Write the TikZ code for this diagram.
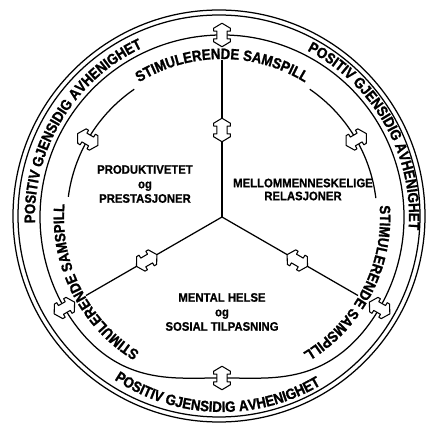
\documentclass[tikz,border=0pt]{standalone}
\usepackage{fontspec}
\setmainfont{Liberation Sans}
\newfontfamily\bandfam[FakeStretch=0.88,FakeBold=1.3]{Liberation Sans}
\newfontfamily\lblfam[FakeStretch=0.92,FakeBold=0.8]{Liberation Sans}
\usetikzlibrary{decorations.text}
\tikzset{
  ring/.style={line width=1.25pt},
  dbl/.pic={\draw[fill=white,line width=1.05pt,line join=round,scale=1.12]
     (10.5,0) -- (6,7.5) -- (3.5,7.5) -- (3.5,4.5) -- (-3.5,4.5) -- (-3.5,7.5) -- (-6,7.5)
     -- (-10.5,0) -- (-6,-7.5) -- (-3.5,-7.5) -- (-3.5,-4.5) -- (3.5,-4.5) -- (3.5,-7.5) -- (6,-7.5) -- cycle;},
  lbl/.style={align=center,font=\lblfam\bfseries\fontsize{12.3}{14.5}\selectfont},
  bandtxt/.style={decorate,decoration={text along path,text align=center,text={#1}}},
  bandfont/.style={execute at begin scope={\bandfam\bfseries\fontsize{15}{17}\selectfont}}
}
\begin{document}
\begin{tikzpicture}[x=1pt,y=1pt]
\useasboundingbox (0,0) rectangle (431,428);
\coordinate (o) at (219,212);
\coordinate (c) at (222,211);
% outer double circle
\draw[ring] (o) circle[radius=206];
\draw[ring] (o) circle[radius=201];
% middle line: circle over the top, dipping inwards at the bottom
\draw[ring] ([shift={(330:182)}]c) arc[start angle=330,end angle=570,radius=182];
\draw[ring] plot[domain=210:330,samples=91,variable=\t]
  ({222+(182-21*pow((cos(3*(\t-270))+1)/2,2))*cos(\t)},{211+(182-21*pow((cos(3*(\t-270))+1)/2,2))*sin(\t)});
% inner arcs between the texts
\draw[ring] ([shift={(124.5:155)}]c) arc[start angle=124.5,end angle=172.5,radius=155];
\draw[ring] ([shift={(7:155)}]c) arc[start angle=7,end angle=55.5,radius=155];
% spokes
\coordinate (s1) at ([shift={(90:157)}]c);
\coordinate (s2) at ([shift={(210:157)}]c);
\coordinate (s3) at ([shift={(330:157)}]c);
\draw[ring] (c) -- (s1);
\draw[ring] (c) -- (s2);
\draw[ring] (c) -- (s3);
% arrows
\foreach \a/\r in {90/182,210/182,330/182,30/155,150/155,270/161,90/87,210/87,330/87}
  \pic[rotate=\a] at ([shift={(\a:\r)}]c) {dbl};
% band texts
\begin{scope}[bandfont]
\path[bandtxt={STIMULERENDE SAMSPILL}] ([shift={(130:158)}]c) arc[start angle=130,end angle=50,radius=158];
\path[bandtxt={STIMULERENDE SAMSPILL}] ([shift={(12.5:158)}]c) arc[start angle=12.5,end angle=-67.5,radius=158];
\path[bandtxt={STIMULERENDE SAMSPILL}] ([shift={(247:158)}]c) arc[start angle=247,end angle=167,radius=158];
\path[bandtxt={POSITIV GJENSIDIG AVHENIGHET}] ([shift={(188.5:187)}]c) arc[start angle=188.5,end angle=108.5,radius=187];
\path[bandtxt={POSITIV GJENSIDIG AVHENIGHET}] ([shift={(69.5:187)}]c) arc[start angle=69.5,end angle=-10.5,radius=187];
\path[bandtxt={POSITIV GJENSIDIG AVHENIGHET}] ([shift={(228.5:195)}]c) arc[start angle=228.5,end angle=308.5,radius=195];
\end{scope}
% sector labels
\node[lbl] (prod) at (145,244) {PRODUKTIVETET\\og\\PRESTASJONER};
\node[lbl,font=\lblfam\bfseries\fontsize{12.3}{13}\selectfont] (mell) at (303,238.5) {MELLOMMENNESKELIGE\\RELASJONER};
\node[lbl] (ment) at (222,116) {MENTAL HELSE\\og\\SOSIAL TILPASNING};
\end{tikzpicture}
\end{document}
